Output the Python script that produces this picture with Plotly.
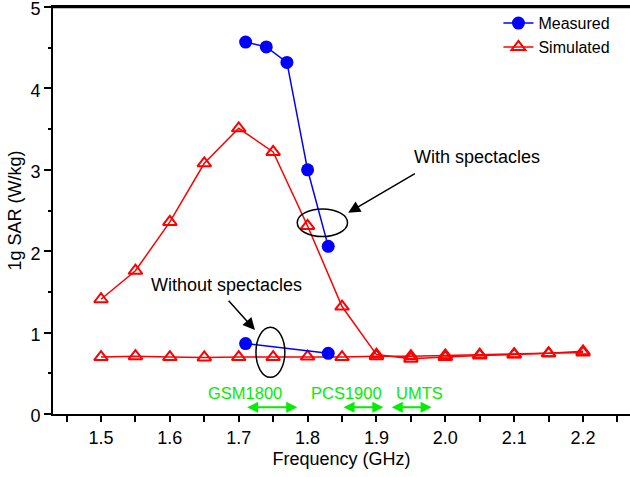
import plotly.graph_objects as go

# ---- data ----
meas_with_f = [1.71, 1.74, 1.77, 1.80, 1.83]
meas_with_sar = [4.57, 4.51, 4.32, 3.00, 2.06]
meas_without_f = [1.71, 1.83]
meas_without_sar = [0.865, 0.745]

sim_f = [1.50, 1.55, 1.60, 1.65, 1.70, 1.75, 1.80, 1.85, 1.90, 1.95, 2.00, 2.05, 2.10, 2.15, 2.20]
sim_with_sar = [1.41, 1.76, 2.36, 3.08, 3.51, 3.22, 2.31, 1.32, 0.73, 0.68, 0.70, 0.72, 0.73, 0.745, 0.77]
sim_without_sar = [0.70, 0.71, 0.70, 0.695, 0.70, 0.70, 0.705, 0.70, 0.71, 0.71, 0.72, 0.73, 0.735, 0.745, 0.755]

x_tick_vals = [1.5, 1.6, 1.7, 1.8, 1.9, 2.0, 2.1, 2.2]
x_tick_text = ["1.5", "1.6", "1.7", "1.8", "1.9", "2.0", "2.1", "2.2"]
y_tick_vals = [0, 1, 2, 3, 4, 5]
y_tick_text = ["0", "1", "2", "3", "4", "5"]

band_names = ["GSM1800", "PCS1900", "UMTS"]
band_start = [1.71, 1.85, 1.92]
band_end = [1.785, 1.91, 1.98]
band_label_x = [1.7084, 1.857, 1.962]

FONT = "Liberation Sans, Arial, sans-serif"
BLUE = "#0000ff"
RED = "#ff0000"
GREEN = "#00ee00"

fig = go.Figure()

fig.add_trace(go.Scatter(
    x=sim_f, y=sim_without_sar, mode="lines+markers", name="Simulated",
    legendgroup="sim", showlegend=False,
    line=dict(color=RED, width=1.5),
    marker=dict(symbol="triangle-up-open", size=12, color=RED, line=dict(width=2, color=RED)),
))
fig.add_trace(go.Scatter(
    x=sim_f, y=sim_with_sar, mode="lines+markers", name="Simulated",
    legendgroup="sim", showlegend=True, legendrank=2,
    line=dict(color=RED, width=1.5),
    marker=dict(symbol="triangle-up-open", size=12, color=RED, line=dict(width=2, color=RED)),
))
fig.add_trace(go.Scatter(
    x=meas_without_f, y=meas_without_sar, mode="lines+markers", name="Measured",
    legendgroup="meas", showlegend=False,
    line=dict(color=BLUE, width=1.5),
    marker=dict(symbol="circle", size=13, color=BLUE),
))
fig.add_trace(go.Scatter(
    x=meas_with_f, y=meas_with_sar, mode="lines+markers", name="Measured",
    legendgroup="meas", showlegend=True, legendrank=1,
    line=dict(color=BLUE, width=1.5),
    marker=dict(symbol="circle", size=13, color=BLUE),
))

shapes = [
    dict(type="line", xref="paper", yref="paper", x0=0, x1=1, y0=1, y1=1,
         line=dict(color="black", width=2.5)),
    dict(type="circle", xref="x", yref="y", x0=1.785, x1=1.858, y0=2.18, y1=2.52,
         line=dict(color="black", width=1.5)),
    dict(type="circle", xref="x", yref="y", x0=1.725, x1=1.767, y0=0.45, y1=1.065,
         line=dict(color="black", width=1.5)),
]

annotations = [
    dict(x=1.859, y=2.473, ax=1.958, ay=2.964, xref="x", yref="y", axref="x", ayref="y",
         text="", showarrow=True, arrowhead=2, arrowsize=1.6, arrowwidth=1.5, arrowcolor="black"),
    dict(x=1.7236, y=1.032, ax=1.6834, ay=1.409, xref="x", yref="y", axref="x", ayref="y",
         text="", showarrow=True, arrowhead=2, arrowsize=1.6, arrowwidth=1.5, arrowcolor="black"),
    dict(x=2.0466, y=3.161, xref="x", yref="y", text="With spectacles", showarrow=False,
         font=dict(family=FONT, size=18, color="black")),
    dict(x=1.682, y=1.585, xref="x", yref="y", text="Without spectacles", showarrow=False,
         font=dict(family=FONT, size=18, color="black")),
]
for name, s, e, lx in zip(band_names, band_start, band_end, band_label_x):
    annotations.append(dict(
        x=e, y=0.082, ax=s, ay=0.082, xref="x", yref="y", axref="x", ayref="y",
        text="", showarrow=True, arrowhead=2, arrowside="end+start", arrowsize=1.1,
        arrowwidth=2, arrowcolor=GREEN, standoff=0, startstandoff=0))
    annotations.append(dict(
        x=lx, y=0.26, xref="x", yref="y", text=name, showarrow=False,
        font=dict(family=FONT, size=16.5, color=GREEN)))

fig.update_layout(
    width=630, height=477,
    margin=dict(l=53, r=0, t=7, b=63, autoexpand=False),
    paper_bgcolor="white", plot_bgcolor="white",
    font=dict(family=FONT, size=18, color="black"),
    shapes=shapes, annotations=annotations,
    legend=dict(x=0.772, y=1.002, xanchor="left", yanchor="top",
                font=dict(family=FONT, size=16, color="black"),
                bgcolor="rgba(0,0,0,0)", tracegroupgap=0, traceorder="normal"),
    showlegend=True,
)
fig.update_xaxes(
    range=[1.4303, 2.2682], tickvals=x_tick_vals, ticktext=x_tick_text, automargin=False,
    showgrid=False, zeroline=False, showline=True, linecolor="black", linewidth=2,
    mirror=True, ticks="outside", ticklen=6, tickwidth=1.5, tickcolor="black",
    ticklabeloverflow="allow",
    minor=dict(dtick=0.05, tick0=1.45, ticks="outside", ticklen=6, tickwidth=1.5, tickcolor="black", showgrid=False),
    title=dict(text="Frequency (GHz)", font=dict(family=FONT, size=18), standoff=6),
    tickfont=dict(family=FONT, size=18),
)
fig.update_yaxes(
    range=[0, 5.0005], tickvals=y_tick_vals, ticktext=y_tick_text, automargin=False,
    showgrid=False, zeroline=False, showline=True, linecolor="black", linewidth=2,
    ticks="outside", ticklen=7, tickwidth=1.5, tickcolor="black",
    ticklabeloverflow="allow", ticklabelshift=2,
    minor=dict(dtick=0.5, ticks="outside", ticklen=3.5, tickwidth=1.5, tickcolor="black", showgrid=False),
    title=dict(text="1g SAR (W/kg)", font=dict(family=FONT, size=18), standoff=4),
    tickfont=dict(family=FONT, size=18),
)

fig.write_html("out.html", config={"displayModeBar": False},
               post_script="document.body.style.margin='0';")
